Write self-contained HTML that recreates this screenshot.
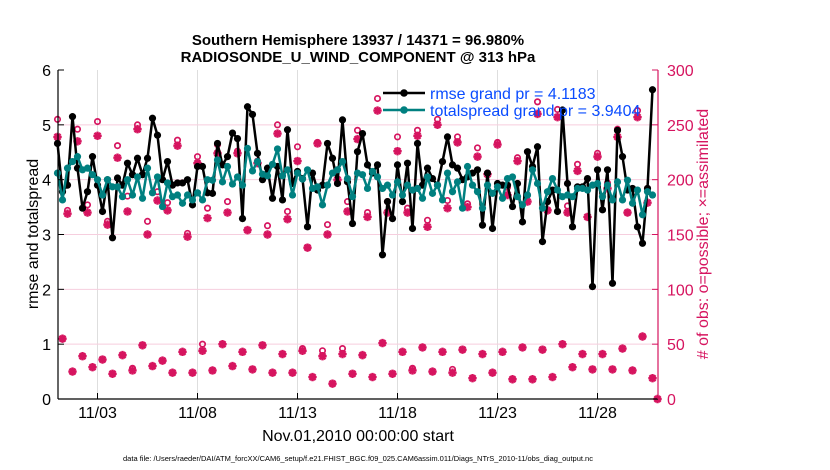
<!DOCTYPE html>
<html><head><meta charset="utf-8"><style>
html,body{margin:0;padding:0;background:#fff}
svg{display:block;font-family:"Liberation Sans",Arial,sans-serif}
</style></head><body>
<svg id="chart" width="830" height="470" viewBox="0 0 830 470" xmlns="http://www.w3.org/2000/svg">
<text x="358" y="45" text-anchor="middle" font-size="15" font-weight="bold">Southern Hemisphere 13937 / 14371 = 96.980%</text>
<text x="358" y="62" text-anchor="middle" font-size="15" font-weight="bold">RADIOSONDE_U_WIND_COMPONENT @ 313 hPa</text>
<g id="grid"></g>
<g id="obs"></g>
<g id="lines"></g>
<g id="axes"></g>
<text transform="translate(38,234) rotate(-90)" text-anchor="middle" font-size="16">rmse and totalspread</text>
<text transform="translate(708,234) rotate(-90)" text-anchor="middle" font-size="16" fill="#d6145f"># of obs: o=possible; ×=assimilated</text>
<text x="358" y="441" text-anchor="middle" font-size="16">Nov.01,2010 00:00:00 start</text>
<text x="358" y="461" text-anchor="middle" font-size="7.5">data file: /Users/raeder/DAI/ATM_forcXX/CAM6_setup/f.e21.FHIST_BGC.f09_025.CAM6assim.011/Diags_NTrS_2010-11/obs_diag_output.nc</text>
<g id="legend">
  <line x1="383" y1="93" x2="425" y2="93" stroke="#000" stroke-width="2.5"/>
  <circle cx="404" cy="93" r="3.8" fill="#000"/>
  <text x="430" y="99" font-size="16" fill="#0a4cff">rmse grand pr = 4.1183</text>
  <line x1="383" y1="110" x2="425" y2="110" stroke="#008080" stroke-width="2.5"/>
  <circle cx="404" cy="110" r="3.8" fill="#008080"/>
  <text x="430" y="116" font-size="16" fill="#0a4cff">totalspread grand pr = 3.9404</text>
</g>
</svg>
<script>
const rmse=[4.66,3.78,3.9,5.15,4.21,3.48,3.78,4.42,3.9,3.42,4.0,2.94,4.03,3.9,4.3,4.09,4.39,4.09,4.39,5.12,4.81,4.0,4.33,3.9,3.94,3.94,4.0,3.54,4.24,4.24,3.76,
3.75,4.66,4.27,4.42,4.85,4.75,3.29,5.33,5.19,4.48,4.0,4.21,3.66,4.24,3.63,4.91,3.93,4.15,4.02,3.14,4.12,3.81,3.9,4.66,4.39,3.93,5.09,3.96,3.2,4.51,
4.84,4.27,4.12,4.27,2.63,3.6,3.29,4.27,3.6,4.3,3.11,4.66,3.9,4.21,4.02,3.9,4.33,4.78,4.27,4.21,4.0,4.05,4.12,4.18,3.17,4.12,3.11,3.93,3.9,3.9,
3.51,3.93,3.23,4.51,4.24,4.6,2.87,3.6,3.81,3.42,5.27,3.93,3.14,3.87,3.87,4.02,2.05,4.18,3.45,4.18,2.11,4.9,4.42,3.81,3.84,3.14,2.84,3.84,5.64];
const spread=[4.12,3.63,4.21,4.33,4.42,4.18,4.21,4.09,4.0,3.72,4.0,3.87,3.87,3.69,4.0,3.72,4.05,3.66,4.21,3.76,4.05,3.51,3.94,3.69,3.72,3.57,3.72,3.63,3.76,3.63,4.0,
3.99,4.36,3.96,4.24,3.92,4.05,3.9,4.57,4.16,4.33,4.1,4.07,4.28,4.56,4.07,4.18,3.72,4.12,4.01,4.18,3.84,3.87,3.54,3.9,4.12,4.18,4.33,4.02,3.69,4.12,
4.09,3.84,4.15,4.05,3.84,3.9,3.72,3.96,3.72,3.9,3.81,3.84,3.66,4.05,3.75,3.9,3.63,4.12,3.78,3.96,3.48,4.24,3.9,3.78,3.48,3.9,3.75,3.87,3.66,4.02,
4.05,3.69,3.54,3.72,4.18,3.93,3.48,3.78,4.02,3.81,3.69,3.72,3.69,3.84,3.84,3.81,3.9,3.93,3.69,3.9,3.63,3.96,3.63,3.99,3.57,3.81,3.36,3.78,3.72];
const possible=[255,55,172,25,246,39,177,29,253,36,162,23,231,40,185,28,250,49,162,30,189,35,179,24,236,43,151,24,221,50,174,26,232,50,180,30,226,43,154,27,217,49,158,24,250,41,171,24,230,46,138,20,234,44,159,14,209,46,180,23,245,40,170,20,274,51,180,23,239,43,174,28,245,47,163,25,255,43,181,27,239,45,178,19,229,41,206,24,234,43,193,18,220,47,186,18,271,45,180,20,264,50,176,29,214,41,166,27,224,41,197,27,246,46,170,26,263,57,192,19,0];
const assimilated=[239,55,169,25,235,39,170,29,240,36,159,23,220,40,171,26,246,49,150,30,181,35,172,24,231,43,148,24,215,44,165,26,224,50,170,30,224,43,154,27,215,49,150,24,242,41,164,24,217,44,138,20,233,39,150,14,200,41,171,23,237,40,166,20,263,51,170,23,226,43,170,26,240,47,157,25,250,43,174,24,234,45,175,19,221,41,205,24,232,43,186,18,217,47,180,18,260,45,172,20,257,50,170,29,208,41,166,27,221,41,192,27,239,46,170,26,257,57,179,19,0];
const xTickLabels=["11/03","11/08","11/13","11/18","11/23","11/28"];
const xTickDays=[2,7,12,17,22,27];
const yTicks=[0,1,2,3,4,5,6];
const y2Ticks=[0,50,100,150,200,250,300];

const NS="http://www.w3.org/2000/svg";
const L=58,R=658,T=70,B=399;
const xScale=d=>L+(d/30)*(R-L)-0.5;
const yScale=v=>B-(v/6)*(B-T);
const y2Scale=c=>B-(c/300)*(B-T);
const idxDay=i=>i/4;
function mk(tag,attrs,parent){const e=document.createElementNS(NS,tag);for(const k in attrs)e.setAttribute(k,attrs[k]);parent.appendChild(e);return e;}
const grid=document.getElementById('grid'),obs=document.getElementById('obs'),lines=document.getElementById('lines'),axes=document.getElementById('axes');
const RED="#d6145f";

xTickDays.forEach((d,k)=>{
  const x=xScale(d);
  const g=mk('line',{x1:x,y1:T,x2:x,y2:B,stroke:'#dedede','stroke-width':1},grid);
  
  
  const t=mk('line',{x1:x,y1:B,x2:x,y2:B-6,stroke:'#000','stroke-width':1},axes);
  
  
  const lb=mk('text',{x:x,y:418,'text-anchor':'middle','font-size':16},axes);
  lb.textContent=xTickLabels[k];
  
  
});
y2Ticks.forEach(c=>{
  const y=y2Scale(c);
  if(c>0&&c<300){const g=mk('line',{x1:L,y1:y,x2:R,y2:y,stroke:'#f6cede','stroke-width':1},grid);
  
  }
  const t=mk('line',{x1:R,y1:y,x2:R-6,y2:y,stroke:RED,'stroke-width':1},axes);
  
  
  const lb=mk('text',{x:667,y:y+6,'font-size':16,fill:RED},axes);
  lb.textContent=String(c);
  
  
});
yTicks.forEach(v=>{
  const y=yScale(v);
  const t=mk('line',{x1:L,y1:y,x2:L+6,y2:y,stroke:'#000','stroke-width':1},axes);
  
  
  const lb=mk('text',{x:51,y:y+6,'text-anchor':'end','font-size':16},axes);
  lb.textContent=String(v);
  
  
});
const la=mk('line',{x1:L,y1:T,x2:L,y2:B,stroke:'#000','stroke-width':1.2},axes);


const ba=mk('line',{x1:L,y1:B,x2:R,y2:B,stroke:'#000','stroke-width':1.2},axes);


const ra=mk('line',{x1:R,y1:T,x2:R,y2:B,stroke:RED,'stroke-width':1.2},axes);



possible.forEach((c,i)=>{
  const x=xScale(idxDay(i)),y=y2Scale(c);
  const o=mk('circle',{cx:x,cy:y,r:2.7,fill:'none',stroke:RED,'stroke-width':1.7},obs);
  
  
});
assimilated.forEach((c,i)=>{
  const x=xScale(idxDay(i)),y=y2Scale(c),s=4.2,d=3.0;
  const p=mk('path',{d:`M${x-s},${y}H${x+s}M${x},${y-s}V${y+s}M${x-d},${y-d}L${x+d},${y+d}M${x-d},${y+d}L${x+d},${y-d}`,stroke:RED,'stroke-width':2.4,fill:'none'},obs);
  
  
});

function series(vals,color,name){
  const pts=vals.map((v,i)=>[xScale(idxDay(i)),yScale(v)]);
  const pl=mk('polyline',{points:pts.map(p=>p.join(',')).join(' '),fill:'none',stroke:color,'stroke-width':2.5,'stroke-linejoin':'round'},lines);
  
  
  pts.forEach(p=>{
    const c=mk('circle',{cx:p[0],cy:p[1],r:3.6,fill:color},lines);
    
    
  });
}
series(rmse,'#000','rmse');
series(spread,'#008080','totalspread');
document.getElementById('chart').appendChild(document.getElementById('legend'));
</script>
</body></html>
